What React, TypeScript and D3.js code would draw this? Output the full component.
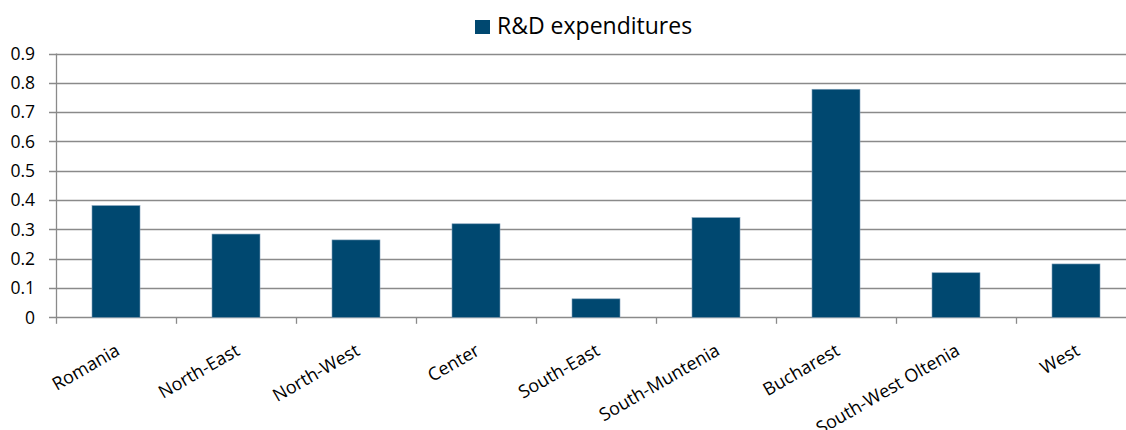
import React from "react";
import * as d3 from "d3";

const categories = ["Romania", "North-East", "North-West", "Center", "South-East", "South-Muntenia", "Bucharest", "South-West Oltenia", "West"];
const values = [0.381, 0.284, 0.264, 0.319, 0.063, 0.34, 0.778, 0.152, 0.182];
const yTicks = [0, 0.1, 0.2, 0.3, 0.4, 0.5, 0.6, 0.7, 0.8, 0.9];
const seriesName = "R&D expenditures";

const W = 1126;
const H = 430;
const FONT = "'Open Sans', sans-serif";
const BAR = "#004870";
const GRID = "#8a8a8a";

export default function App() {
  const x0 = 56;
  const x = d3.scaleBand<string>().domain(categories).range([x0, x0 + 1080]).paddingInner(0.6).paddingOuter(0.3);
  const y = d3.scaleLinear().domain([0, 0.9]).range([317.3, 53.5]);
  const step = x.step();
  return (
    <svg width={W} height={H} style={{ position: "absolute", left: 0, top: 0, background: "#fff" }} fontFamily={FONT}>
      {yTicks.map((t) => (
        <g key={t}>
          <line x1={49} x2={W} y1={Math.round(y(t)) + 0.5} y2={Math.round(y(t)) + 0.5} stroke={GRID} strokeWidth={1.3} />
          <text x={35} y={y(t)} dy="0.36em" textAnchor="end" fontSize={17.5} fill="#000">{t === 0 ? "0" : t.toFixed(1)}</text>
        </g>
      ))}
      <line x1={x0 + 0.5} x2={x0 + 0.5} y1={y(0.9)} y2={y(0)} stroke={GRID} strokeWidth={1.3} />
      {categories.map((c, i) => (
        <line key={"t" + c} x1={x0 + i * step + 0.5} x2={x0 + i * step + 0.5} y1={y(0)} y2={y(0) + 6.5} stroke={GRID} strokeWidth={1.3} />
      ))}
      {categories.map((c, i) => (
        <rect key={"b" + c} x={x(c)} y={y(values[i])} width={x.bandwidth()} height={y(0) - y(values[i])} fill={BAR} stroke="#7f9fb8" strokeWidth={0.6} />
      ))}
      {categories.map((c) => {
        const cx = (x(c) as number) + x.bandwidth() / 2;
        return (
          <text key={"l" + c} transform={`translate(${cx + 5},${354}) rotate(-30)`} textAnchor="end" fontSize={18} fill="#000">{c}</text>
        );
      })}
      <rect x={475} y={20} width={15} height={14} fill={BAR} />
      <text x={497} y={34} fontSize={23} fill="#000">{seriesName}</text>
    </svg>
  );
}
